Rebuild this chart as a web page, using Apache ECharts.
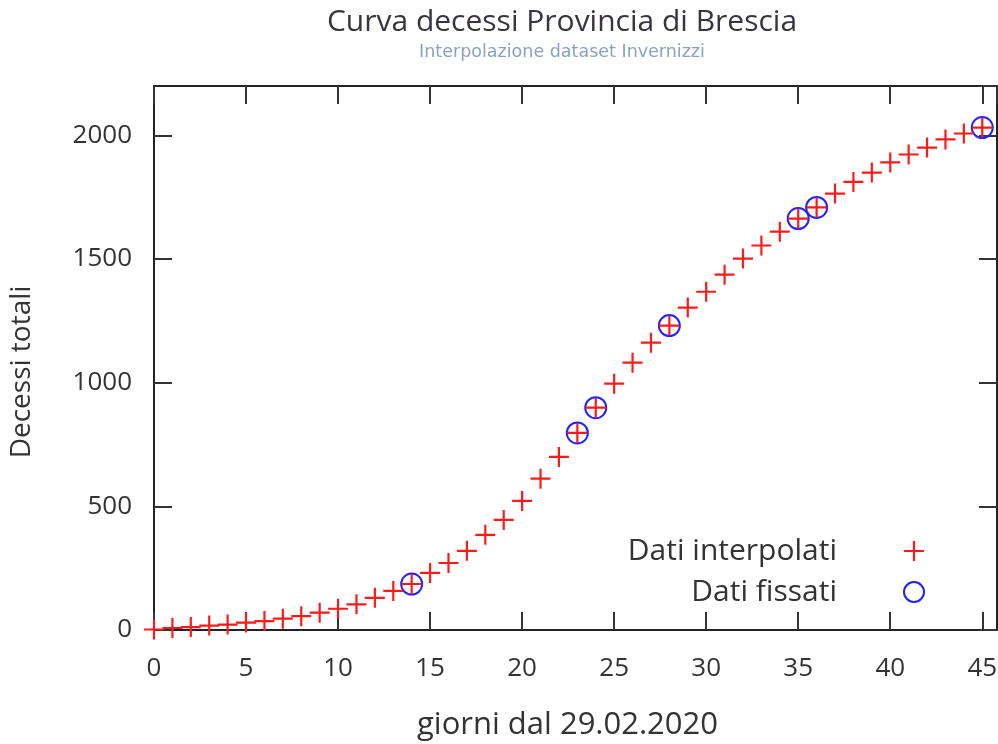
<!DOCTYPE html>
<html>
<head>
<meta charset="utf-8">
<script src="https://cdn.jsdelivr.net/npm/echarts@6/dist/echarts.min.js"></script>
<style>
html,body{margin:0;padding:0;background:#fff;}
#chart{width:998px;height:744px;}
</style>
</head>
<body>
<div id="chart"></div>
<script>
// ---- data ----
const titleText = 'Curva decessi Provincia di Brescia';
const subtitleText = 'Interpolazione dataset Invernizzi';
const xAxisName = 'giorni dal 29.02.2020';
const yAxisName = 'Decessi totali';
const seriesNames = ['Dati interpolati', 'Dati fissati'];

const interpDays = [0,1,2,3,4,5,6,7,8,9,10,11,12,13,14,15,16,17,18,19,20,21,22,23,24,25,26,27,28,29,30,31,32,33,34,35,36,37,38,39,40,41,42,43,44,45];
const interpValues = [2,8,12,18,22,30,36,46,56,70,86,104,130,158,186,231,271,320,385,445,522,612,700,797,899,996,1081,1162,1231,1304,1368,1437,1502,1555,1611,1664,1709,1765,1812,1850,1891,1923,1951,1984,2008,2032];

const fixedDays = [14,23,24,28,35,36,45];
const fixedValues = [186,797,899,1231,1664,1709,2032];

// ---- chart ----
const FONT = 'Open Sans';
const plusPath = 'path://M0,8.9H20V11.1H0ZM8.9,0H11.1V20H8.9Z';
const chart = echarts.init(document.getElementById('chart'));

function pairs(xs, ys){ return xs.map((x,i)=>[x, ys[i]]); }

const axisLineStyle = {color:'#222', width:2};
const tickStyle = {color:'#333', width:2};

chart.setOption({
  animation:false,
  backgroundColor:'#ffffff',
  title:{
    text:titleText,
    subtext:subtitleText,
    left:562, top:7, textAlign:'center', padding:0, itemGap:6,
    textStyle:{fontFamily:FONT, fontSize:30, fontWeight:'normal', color:'#3a3340'},
    subtextStyle:{fontFamily:'DejaVu Sans', fontSize:17.5, color:'#8aa2bd'}
  },
  legend:{
    orient:'vertical', align:'right',
    right:68, top:531, itemGap:11,
    itemWidth:20, itemHeight:20,
    textStyle:{fontFamily:FONT, fontSize:30, color:'#333', padding:[0,62,0,0]},
    data:[{name:seriesNames[0], icon:plusPath},{name:seriesNames[1], icon:'circle'}]
  },
  grid:{left:154, right:1, top:86, bottom:114, containLabel:false, outerBoundsMode:'none'},
  xAxis:[{
    type:'value', min:0, max:45.8, interval:5, position:'bottom',
    name:xAxisName, nameLocation:'middle', nameGap:80,
    nameTextStyle:{fontFamily:FONT, fontSize:31, color:'#333', padding:[0,16,0,0]},
    axisLine:{show:true, onZero:false, lineStyle:axisLineStyle},
    axisTick:{show:true, inside:true, length:18, lineStyle:tickStyle},
    axisLabel:{fontFamily:FONT, fontSize:26, color:'#333', margin:26, showMaxLabel:false,
      formatter:(v)=>String(v)},
    splitLine:{show:false}
  },{
    type:'value', min:0, max:45.8, interval:5, position:'top',
    axisLine:{show:true, onZero:false, lineStyle:axisLineStyle},
    axisTick:{show:true, inside:true, length:18, lineStyle:tickStyle},
    axisLabel:{show:false}, splitLine:{show:false}
  }],
  yAxis:[{
    type:'value', min:0, max:2200, interval:500, position:'left',
    name:yAxisName, nameLocation:'middle', nameGap:118, nameRotate:90,
    nameTextStyle:{fontFamily:FONT, fontSize:28, color:'#333', padding:[0,28,0,0]},
    axisLine:{show:true, onZero:false, lineStyle:axisLineStyle},
    axisTick:{show:true, inside:true, length:18, lineStyle:tickStyle},
    axisLabel:{fontFamily:FONT, fontSize:26, color:'#333', margin:22, showMaxLabel:false,
      formatter:(v)=>String(v)},
    splitLine:{show:false}
  },{
    type:'value', min:0, max:2200, interval:500, position:'right',
    axisLine:{show:true, onZero:false, lineStyle:axisLineStyle},
    axisTick:{show:true, inside:true, length:18, lineStyle:tickStyle},
    axisLabel:{show:false}, splitLine:{show:false}
  }],
  series:[{
    name:seriesNames[0], type:'scatter', z:3,
    symbol:plusPath, symbolSize:20,
    itemStyle:{color:'#ff1a1a', opacity:1},
    data:pairs(interpDays, interpValues)
  },{
    name:seriesNames[1], type:'scatter', z:2,
    symbol:'circle', symbolSize:21,
    itemStyle:{color:'rgba(0,0,0,0)', borderColor:'#2222ff', borderWidth:2, opacity:1},
    data:pairs(fixedDays, fixedValues)
  }]
});
</script>
</body>
</html>
